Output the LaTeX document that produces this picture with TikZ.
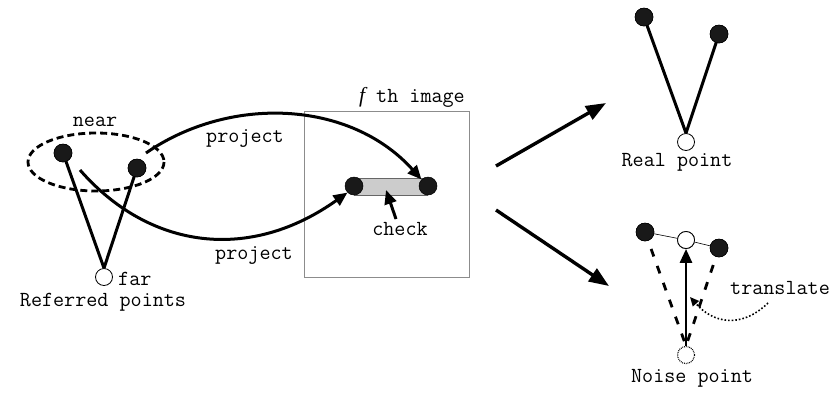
\documentclass[tikz,border=0pt]{standalone}
\usepackage{fontspec}
\usetikzlibrary{arrows.meta}
\begin{document}
\begin{tikzpicture}[x=1pt,y=-1pt,
  lbl/.style={font=\ttfamily\fontsize{21.5}{22}\selectfont, inner sep=0pt},
  dot/.style={circle, fill=black!90, draw=black, line width=0.5pt, minimum size=18pt, inner sep=0pt},
  hole/.style={circle, fill=white, draw=black, line width=0.8pt, minimum size=17pt, inner sep=0pt},
  thickline/.style={line width=3pt},
  arr/.style={line width=3pt, -{Triangle[length=14pt,width=12pt]}},
  bigarr/.style={line width=3.4pt, -{Triangle[length=20pt,width=15pt]}}
]
\useasboundingbox (0,0) rectangle (837,392);

% ---------- left: referred points ----------
\draw[line width=2.8pt, dash pattern=on 7pt off 4pt] (96,162) ellipse [x radius=68, y radius=29];
\node[hole] (far) at (104,277) {};
\node[dot] (n1) at (63,153) {};
\node[dot] (n2) at (137,168) {};
\draw[thickline] (n1.center) -- (far.north);
\draw[thickline] (n2.center) -- (far.north);
\node[dot] at (63,153) {};
\node[dot] at (137,168) {};
\node[lbl] (near) at (95,122) {near};
\node[lbl, anchor=west] (farl) at (118,279) {far};
\node[lbl] (ref) at (103,302) {Referred points};

% ---------- image box ----------
\draw[black!45, line width=1pt] (304,111) rectangle (469,277);
\node[lbl] (imgl) at (412,97) {{\fontspec{Liberation Serif}\itshape f} th image};
\fill[black!20] (354,178) rectangle (428,195);
\draw[black!60, line width=0.9pt] (354,178) -- (428,178) (354,195) -- (428,195);
\node[dot] (c1) at (354,186) {};
\node[dot] (c2) at (428,186) {};
\coordinate (chk) at (396,219);
\draw[arr] (chk) -- (386,190);
\node[lbl] (checkl) at (400,229) {check};

% ---------- project curves ----------
\coordinate (ps1) at (146,153);
\coordinate (ps2) at (80,170);
\draw[arr] (ps1) .. controls (230,95) and (350,100) .. (c2.north west);
\draw[arr] (ps2) .. controls (150,250) and (250,262) .. (c1.south west);
\node[lbl] (p1) at (245,138) {project};
\node[lbl] (p2) at (254,255) {project};

% ---------- big arrows ----------
\coordinate (a0) at (496,166);
\coordinate (a1) at (606,103);
\coordinate (b0) at (496,210);
\coordinate (b1) at (609,286);
\draw[bigarr] (a0) -- (a1);
\draw[bigarr] (b0) -- (b1);

% ---------- real point ----------
\node[hole] (rp) at (686,142) {};
\node[dot] (r1) at (644,17) {};
\node[dot] (r2) at (719,34) {};
\draw[thickline] (r1.center) -- (rp.north);
\draw[thickline] (r2.center) -- (rp.north);
\node[dot] at (644,17) {};
\node[dot] at (719,34) {};
\node[lbl] (realp) at (677,162) {Real point};

% ---------- noise point ----------
\node[hole] (np) at (686,240) {};
\node[hole, densely dotted, line width=1.2pt] (nb) at (686,355) {};
\node[dot] (m1) at (645,232) {};
\node[dot] (m2) at (719,248) {};
\draw[line width=0.6pt] (m1) -- (np) -- (m2);
\draw[line width=2.8pt, dash pattern=on 8pt off 10pt] (m1.center) -- (nb.north);
\draw[line width=2.8pt, dash pattern=on 8pt off 10pt] (m2.center) -- (nb.north);
\node[dot] at (645,232) {};
\node[dot] at (719,248) {};
\node[hole] at (686,240) {};
\draw[line width=2.8pt, -{Triangle[length=14pt,width=12pt]}] (nb.north) -- (np.south);
\node[lbl] (trl) at (780,288) {translate};
\coordinate (tr0) at (768,303);
\draw[line width=1.6pt, dotted, -{Triangle[length=9pt,width=8pt]}] (tr0) .. controls (740,330) and (712,322) .. (690,297);
\node[lbl] (noisep) at (692,378) {Noise point};
\end{tikzpicture}
\end{document}
